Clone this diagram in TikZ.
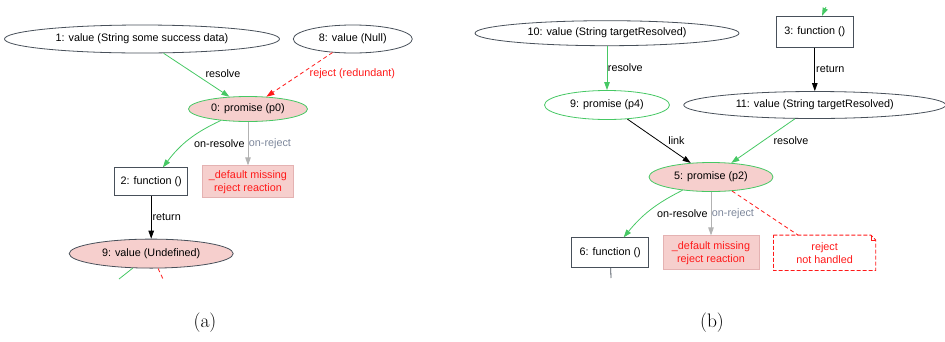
\documentclass[tikz,border=0pt]{standalone}
\usepackage{fontspec}
\newfontfamily\gvfont{Liberation Sans}
\usetikzlibrary{positioning,arrows.meta,calc,shapes.geometric}

\definecolor{gvgreen}{RGB}{70,200,100}
\definecolor{gvpink}{RGB}{246,207,205}
\definecolor{gvred}{RGB}{255,25,25}
\definecolor{gvgray}{RGB}{178,178,178}
\definecolor{gvslate}{RGB}{125,135,155}
\definecolor{gvdark}{RGB}{72,80,90}
\definecolor{gvrose}{RGB}{228,178,178}

\tikzstyle{gv}=[font=\gvfont\fontsize{10.8}{13}\selectfont, inner sep=0pt, align=center]
\tikzstyle{valbox}=[gv, ellipse, draw=gvdark, fill=white, line width=0.8pt, minimum height=28pt]
\tikzstyle{undbox}=[gv, ellipse, draw=gvdark, fill=gvpink, line width=0.8pt, minimum height=29pt]
\tikzstyle{prombox}=[gv, ellipse, draw=gvgreen, fill=gvpink, line width=0.8pt]
\tikzstyle{pendbox}=[gv, ellipse, draw=gvgreen, fill=white, line width=0.8pt]
\tikzstyle{funbox}=[gv, rectangle, draw=gvdark, fill=white, line width=0.8pt, minimum width=73pt, minimum height=28pt]
\tikzstyle{defbox}=[gv, rectangle, draw=gvrose, fill=gvpink, text=gvred, line width=0.8pt]
\tikzstyle{notebox}=[gv, rectangle, text=gvred]
\tikzstyle{lbl}=[gv, inner sep=2pt, text=black]
\tikzstyle{resline}=[line width=0.8pt, gvgreen, -{Triangle[length=8pt,width=5.5pt]}]
\tikzstyle{rejline}=[line width=0.8pt, gvred, dash pattern=on 4pt off 3pt, -{Triangle[length=8pt,width=5.5pt]}]
\tikzstyle{retline}=[line width=0.8pt, black, -{Triangle[length=8pt,width=5.5pt]}]
\tikzstyle{defline}=[line width=0.8pt, gvgray, -{Triangle[length=8pt,width=5.5pt]}]
\tikzstyle{unhline}=[line width=0.8pt, gvred, dash pattern=on 4pt off 3pt]
\tikzstyle{noteline}=[line width=0.8pt, gvred, dash pattern=on 4pt off 2pt]
\tikzstyle{funline}=[line width=0.8pt, gvdark]

\begin{document}
\begin{tikzpicture}[x=1pt, y=1pt]
\useasboundingbox (0,0) rectangle (945,-341);

% (a) settled promise
    \node (p0) [prombox, minimum width=119pt, minimum height=25pt] at (248,-109) {0: promise (p0)};
    \node (v1) [valbox, minimum width=275pt] at (142,-39) {1: value (String some success data)};
    \node (v8) [valbox, right=13pt of v1, minimum width=119pt] {8: value (Null)};
    \node (def0) [defbox, below=43.5pt of p0, minimum width=91pt, minimum height=32pt] {\_default missing\\reject reaction};
    \node (f2) [funbox, left=14pt of def0] {2: function ()};
    \node (v9) [undbox, below=42.5pt of f2, minimum width=164pt] {9: value (Undefined)};
    \coordinate (v9res) at (119,-279);
    \coordinate (v9rej) at (163,-279);

% (b) linked promise
    \node (p2) [prombox, minimum width=124pt, minimum height=29pt] at (711,-177) {5: promise (p2)};
    \node (p4) [pendbox, minimum width=125pt, minimum height=29pt] at (607,-105) {9: promise (p4)};
    \node (v10) [valbox, above=44pt of p4, minimum width=264pt, minimum height=25pt] {10: value (String targetResolved)};
    \node (v11) [valbox, right=13.5pt of p4, minimum width=262pt, minimum height=27pt] {11: value (String targetResolved)};
    \node (f3) [funbox, above=43.5pt of v11, minimum width=77pt, minimum height=31pt] {3: function ()};
    \node (def1) [defbox, below=43.5pt of p2, minimum width=96pt, minimum height=34pt] {\_default missing\\reject reaction};
    \node (f6) [funbox, left=13.5pt of def1, minimum width=77pt, minimum height=30pt] {6: function ()};
    \node (rnh) [notebox, right=14pt of def1, minimum width=102pt, minimum height=35pt] {reject\\not handled};
    \coordinate (f3in) at (826,-7);
    \coordinate (f6out) at (611,-278);

% captions
    \node (capa) at (205,-323) {\fontsize{19.5}{22}\selectfont (a)};
    \node (capb) at (712,-323) {\fontsize{19.5}{22}\selectfont (b)};

   \draw[resline] (v1) -- node[lbl, pos=0.48, right=8pt] {resolve} (p0);
   \draw[rejline] (v8) -- node[lbl, pos=0.48, right=6.5pt, text=gvred] {reject (redundant)} (p0);
   \draw[resline] (p0) to[bend right=14] (f2);
   \draw[defline] (p0) -- node[lbl, left=1pt] {on-resolve} node[lbl, right=-1.5pt, text=gvslate] {on-reject} (def0);
   \draw[retline] (f2) -- node[lbl, right=-1pt] {return} (v9);
   \draw[resline, -] (v9) -- (v9res);
   \draw[unhline] (v9) -- (v9rej);

   \draw[resline] (f3in) -- (f3);
   \draw[resline] (v10) -- node[lbl, right=-1.5pt] {resolve} (p4);
   \draw[retline] (f3) -- node[lbl, right=-1pt] {return} (v11);
   \draw[retline] (p4) -- node[lbl, right=7pt] {link} (p2);
   \draw[resline] (v11) -- node[lbl, right=8pt] {resolve} (p2);
   \draw[resline] (p2) to[bend right=12] (f6);
   \draw[defline] (p2) -- node[lbl, left=1pt] {on-resolve} node[lbl, right=-1.5pt, text=gvslate] {on-reject} (def1);
   \draw[unhline] (p2) -- (rnh);
   \draw[funline] (f6) -- (f6out);

   \draw[noteline] (rnh.north west) -- ($(rnh.north east)+(-5,0)$) -- ($(rnh.north east)+(0,-5)$) -- (rnh.south east) -- (rnh.south west) -- cycle;
   \draw[noteline, solid, line width=0.5pt] ($(rnh.north east)+(-5,0)$) -- ($(rnh.north east)+(-5,-5)$) -- ($(rnh.north east)+(0,-5)$);

\end{tikzpicture}
\end{document}
